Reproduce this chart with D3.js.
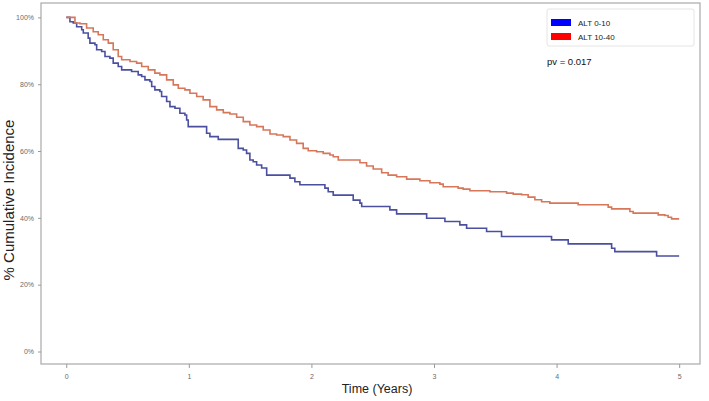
<!DOCTYPE html>
<html>
<head>
<meta charset="utf-8">
<script src="https://cdn.jsdelivr.net/npm/d3@7"></script>
<style>
  body { margin: 0; background: #fff; }
  svg { display: block; font-family: "Liberation Sans", Arial, sans-serif; }
</style>
</head>
<body>
<div id="chart"></div>
<script>
// step points: [time in years, % cumulative incidence]
const altLowTimes = [0, 0.030, 0.057, 0.085, 0.126, 0.139, 0.179, 0.193, 0.234, 0.248, 0.289, 0.316, 0.356, 0.383, 0.424, 0.452, 0.533, 0.587, 0.615, 0.642, 0.683, 0.697, 0.723, 0.764, 0.778, 0.819, 0.846, 0.887, 0.927, 0.968, 0.982, 0.995, 1.145, 1.172, 1.24, 1.403, 1.444, 1.471, 1.498, 1.525, 1.553, 1.594, 1.635, 1.825, 1.865, 1.906, 2.11, 2.137, 2.178, 2.341, 2.396, 2.41, 2.64, 2.695, 2.94, 3.089, 3.211, 3.266, 3.429, 3.551, 3.959, 4.095, 4.449, 4.475, 4.816, 5.0];
const altLowValues = [100, 98.7, 98.3, 97.2, 96.3, 95.3, 93.8, 92.3, 91.8, 90.3, 89.8, 88.3, 87.8, 86.3, 85.3, 84.3, 83.8, 82.8, 82.3, 81.3, 80.8, 79.3, 78.3, 77.8, 76.3, 74.8, 73.3, 72.8, 71.3, 70.8, 69.3, 67.3, 65.3, 64.3, 63.5, 60.8, 60.3, 59.3, 57.3, 56.8, 55.8, 54.9, 52.8, 51.9, 50.8, 49.9, 48.9, 47.8, 46.8, 45.3, 44.4, 43.4, 42.4, 41.2, 39.9, 38.9, 37.9, 36.9, 35.9, 34.4, 33.4, 32.2, 30.9, 29.9, 28.6, 28.6];

const altHighTimes = [0, 0.071, 0.112, 0.166, 0.22, 0.261, 0.302, 0.343, 0.383, 0.424, 0.452, 0.52, 0.574, 0.615, 0.669, 0.723, 0.764, 0.819, 0.873, 0.914, 0.968, 1.009, 1.064, 1.117, 1.172, 1.227, 1.281, 1.335, 1.39, 1.444, 1.498, 1.553, 1.607, 1.662, 1.716, 1.77, 1.825, 1.879, 1.933, 1.974, 2.042, 2.096, 2.151, 2.178, 2.219, 2.396, 2.45, 2.504, 2.573, 2.626, 2.695, 2.777, 2.885, 2.967, 3.048, 3.075, 3.197, 3.238, 3.293, 3.456, 3.592, 3.646, 3.715, 3.768, 3.823, 3.878, 3.945, 4.176, 4.421, 4.449, 4.598, 4.625, 4.829, 4.883, 4.91, 4.938, 5.0];
const altHighValues = [100, 98.3, 98.1, 96.8, 95.7, 94.8, 93.3, 92.3, 90.3, 88.3, 87.3, 86.8, 86.3, 85.3, 84.3, 83.3, 82.8, 81.3, 79.8, 78.8, 78.3, 77.3, 76.3, 75.3, 73.3, 72.3, 71.5, 71.1, 70.1, 68.8, 67.8, 67.3, 66.3, 65.1, 64.8, 64.3, 63.3, 62.3, 60.8, 60.1, 59.8, 59.3, 58.8, 58.3, 57.3, 56.5, 55.5, 54.6, 53.5, 52.8, 52.3, 51.6, 51.1, 50.5, 50.1, 49.3, 48.9, 48.6, 48.1, 47.8, 47.4, 47.1, 46.9, 46.2, 45.4, 44.8, 44.4, 43.9, 43.2, 42.7, 41.9, 41.4, 40.9, 40.7, 40.2, 39.7, 39.7];

const xTicks = [0, 1, 2, 3, 4, 5];
const yTicks = [0, 20, 40, 60, 80, 100];
const seriesNames = ["ALT 0-10", "ALT 10-40"];
const lineColors = ["#4a4f9e", "#d6775a"];
const legendColors = ["#0000ff", "#ff0000"];
const pValueText = "pv = 0.017";

const width = 709, height = 401;
const panel = { left: 41, right: 700, top: 3, bottom: 364 };

const svg = d3.select("#chart").append("svg")
  .attr("width", width)
  .attr("height", height);

const x = d3.scaleLinear().domain([-0.206, 5.17]).range([panel.left, panel.right]);
const y = d3.scaleLinear().domain([-3.74, 104.3]).range([panel.bottom, panel.top]);

// panel frame
svg.append("rect")
  .attr("x", panel.left)
  .attr("y", panel.top)
  .attr("width", panel.right - panel.left)
  .attr("height", panel.bottom - panel.top)
  .attr("fill", "none")
  .attr("stroke", "#a9a9a9")
  .attr("stroke-width", 1.2);

const xAxis = d3.axisBottom(x).tickValues(xTicks).tickSize(4).tickPadding(6)
  .tickFormat(d3.format("d")).tickSizeOuter(0);
const yAxis = d3.axisLeft(y).tickValues(yTicks).tickSize(3).tickPadding(4)
  .tickFormat(d => d + "%").tickSizeOuter(0);

const gx = svg.append("g")
  .attr("transform", `translate(0,${panel.bottom})`)
  .call(xAxis);
const gy = svg.append("g")
  .attr("transform", `translate(${panel.left},0)`)
  .call(yAxis);

[gx, gy].forEach(g => {
  g.select(".domain").remove();
  g.selectAll(".tick line").attr("stroke", "#9a9a9a");
  g.selectAll(".tick text")
    .attr("fill", "#6a6a6a")
    .style("font-size", "7px");
});

// axis titles
svg.append("text")
  .attr("x", 377)
  .attr("y", 393)
  .attr("text-anchor", "middle")
  .style("font-size", "12.5px")
  .attr("fill", "#222")
  .text("Time (Years)");

svg.append("text")
  .attr("text-anchor", "middle")
  .attr("transform", `translate(14,200) rotate(-90)`)
  .style("font-size", "15px")
  .attr("fill", "#222")
  .text("% Cumulative Incidence");

// curves
const line = d3.line()
  .x(d => x(d[0]))
  .y(d => y(d[1]))
  .curve(d3.curveStepAfter);

const curves = [
  d3.zip(altLowTimes, altLowValues),
  d3.zip(altHighTimes, altHighValues)
];

svg.selectAll(".km-line")
  .data(curves)
  .enter().append("path")
  .attr("class", "km-line")
  .attr("d", line)
  .attr("fill", "none")
  .attr("stroke", (d, i) => lineColors[i])
  .attr("stroke-width", 1.6);

// legend
const legend = svg.append("g").attr("class", "legend");
legend.append("rect")
  .attr("x", 547)
  .attr("y", 9)
  .attr("width", 147)
  .attr("height", 37)
  .attr("rx", 2)
  .attr("fill", "#fff")
  .attr("stroke", "#e4e4e4");

seriesNames.forEach((name, i) => {
  legend.append("rect")
    .attr("x", 551)
    .attr("y", 19 + i * 14)
    .attr("width", 20)
    .attr("height", 7)
    .attr("fill", legendColors[i]);
  legend.append("text")
    .attr("x", 578)
    .attr("y", 26 + i * 14)
    .style("font-size", "8px")
    .attr("fill", "#222")
    .text(name);
});

svg.append("text")
  .attr("x", 547)
  .attr("y", 65)
  .style("font-size", "9.5px")
  .attr("fill", "#111")
  .text(pValueText);
</script>
</body>
</html>
